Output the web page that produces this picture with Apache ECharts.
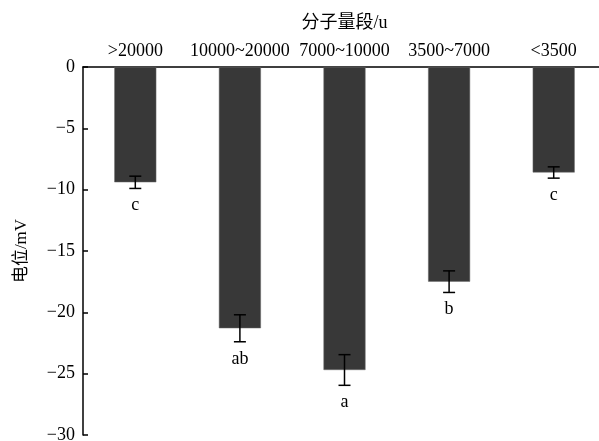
<!DOCTYPE html>
<html>
<head>
<meta charset="utf-8">
<script src="https://cdn.jsdelivr.net/npm/echarts@6/dist/echarts.min.js"></script>
<style>html,body{margin:0;padding:0;background:#fff}#c{width:599px;height:441px}</style>
</head>
<body>
<div id="c"></div>
<script>
var categories = ['>20000', '10000~20000', '7000~10000', '3500~7000', '<3500'];
var means = [-9.4, -21.3, -24.7, -17.5, -8.6];
var errors = [0.5, 1.1, 1.25, 0.88, 0.46];
var letters = ['c', 'ab', 'a', 'b', 'c'];
var yTicks = [0, -5, -10, -15, -20, -25, -30];

var serif = '"Liberation Serif","Times New Roman","Noto Sans CJK SC",serif';
var chart = echarts.init(document.getElementById('c'));
var errData = means.map(function (m, i) { return [i, m, errors[i], letters[i]]; });

chart.setOption({
  animation: false,
  grid: { left: 83, right: -7, top: 67, bottom: 6, outerBoundsMode: 'none', containLabel: false },
  xAxis: {
    type: 'category',
    data: categories,
    position: 'top',
    name: '分子量段/u',
    nameLocation: 'middle',
    nameGap: 35,
    nameTextStyle: { fontFamily: serif, fontSize: 18, color: '#000' },
    axisLine: { lineStyle: { color: '#000', width: 1.5 } },
    axisTick: { show: false },
    axisLabel: { fontFamily: serif, fontSize: 18, color: '#000', margin: 7, interval: 0 }
  },
  yAxis: {
    type: 'value',
    min: -30, max: 0, interval: 5,
    name: '电位/mV',
    nameLocation: 'middle',
    nameRotate: 90,
    nameGap: 53,
    nameTextStyle: { fontFamily: serif, fontSize: 17, color: '#000' },
    axisLine: { show: true, lineStyle: { color: '#000', width: 1.5 } },
    axisTick: { show: true, inside: true, length: 5, lineStyle: { color: '#000', width: 1.5 } },
    splitLine: { show: false },
    axisLabel: {
      fontFamily: serif, fontSize: 18, color: '#000', margin: 8,
      formatter: function (v) { return String(v).replace('-', '\u2212'); }
    }
  },
  series: [
    {
      type: 'bar',
      data: means,
      barWidth: 42,
      itemStyle: { color: '#383838', borderColor: '#6a6a6a', borderWidth: 0.5 }
    },
    {
      type: 'custom',
      data: errData,
      z: 10,
      renderItem: function (params, api) {
        var i = api.value(0), m = api.value(1), e = api.value(2);
        var top = api.coord([i, m + e]);
        var bot = api.coord([i, m - e]);
        var x = top[0], hw = 6;
        var st = { stroke: '#000', lineWidth: 1.5 };
        return {
          type: 'group',
          children: [
            { type: 'line', shape: { x1: x, y1: top[1], x2: x, y2: bot[1] }, style: st },
            { type: 'line', shape: { x1: x - hw, y1: top[1], x2: x + hw, y2: top[1] }, style: st },
            { type: 'line', shape: { x1: x - hw, y1: bot[1], x2: x + hw, y2: bot[1] }, style: st },
            { type: 'text', style: { text: letters[params.dataIndex], x: x, y: bot[1] + 17, align: 'center', verticalAlign: 'middle', font: '18px ' + serif, fill: '#000' } }
          ]
        };
      }
    }
  ]
});
</script>
</body>
</html>
